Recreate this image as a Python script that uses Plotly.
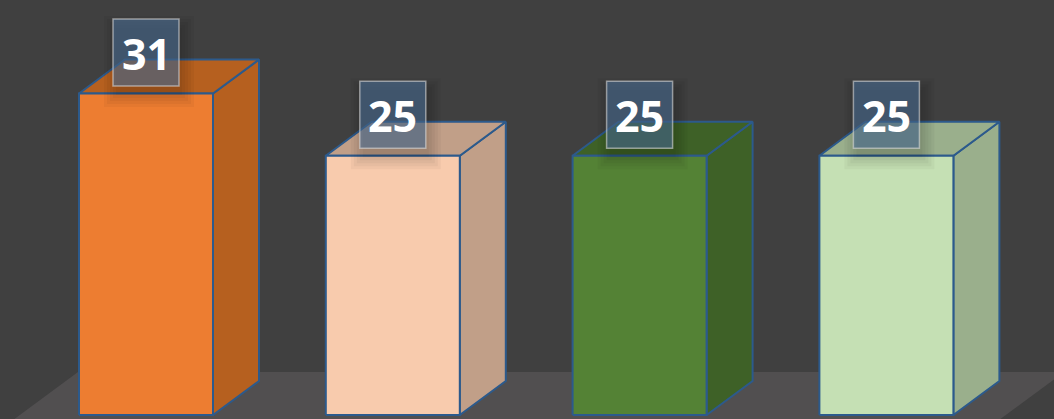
import plotly.graph_objects as go

categories = ["A", "B", "C", "D"]
values = [31, 25, 25, 25]
front_colors = ["#ED7D31", "#F8CBAD", "#548235", "#C5E0B4"]
side_colors = ["#B6601F", "#C19F88", "#3E6127", "#9AAF8C"]
label_texts = [str(v) for v in values]

W, H = 1054, 419
BG = "#404040"
FLOOR = "#514F50"
EDGE = "#2C5A8C"

# axis geometry
x0_px, step_px = 146.0, 246.8
y0_px, unit_px = 415.0, 10.37
xr = [-x0_px / step_px, (W - x0_px) / step_px]
yr = [-(H - y0_px) / unit_px, y0_px / unit_px]

half_w = 67 / step_px          # half width of the front face (data units)
dx = 46 / step_px              # depth offset in x
dy = 34 / unit_px              # depth offset in y

fig = go.Figure()

# floor
fl_top = 43 / unit_px
fl_bot = -60 / unit_px
slope = dx / dy
fl_left = -68 / step_px
fl_right = (1064 - x0_px) / step_px
fig.add_shape(type="path", xref="x", yref="y",
              path=(f"M {fl_left},{fl_top} L {fl_right},{fl_top} "
                    f"L {fl_right - (fl_top - fl_bot) * slope},{fl_bot} "
                    f"L {fl_left - (fl_top - fl_bot) * slope},{fl_bot} Z"),
              fillcolor=FLOOR, line=dict(width=0), layer="below")

for i, (cat, v) in enumerate(zip(categories, values)):
    xl, xrt = i - half_w, i + half_w
    # side face
    fig.add_trace(go.Scatter(
        x=[xrt, xrt + dx, xrt + dx, xrt, xrt],
        y=[0, dy, v + dy, v, 0],
        fill="toself", fillcolor=side_colors[i], mode="lines",
        line=dict(color=EDGE, width=2), hoverinfo="skip", showlegend=False))
    # top face
    fig.add_trace(go.Scatter(
        x=[xl, xrt, xrt + dx, xl + dx, xl],
        y=[v, v, v + dy, v + dy, v],
        fill="toself", fillcolor=side_colors[i], mode="lines",
        line=dict(color=EDGE, width=2), hoverinfo="skip", showlegend=False))
    # front face
    fig.add_trace(go.Scatter(
        x=[xl, xrt, xrt, xl, xl],
        y=[0, 0, v, v, 0],
        fill="toself", fillcolor=front_colors[i], mode="lines",
        line=dict(color=EDGE, width=2), hoverinfo="skip", showlegend=False,
        name=cat))

    # label box with soft shadow
    cy = v + 41 / unit_px
    bw = 33 / step_px
    bh = 33.5 / unit_px
    ox = 3 / step_px
    oy = -9 / unit_px
    for k in [12, 9, 6, 3, 0]:
        fig.add_shape(type="rect", xref="x", yref="y",
                      x0=i - bw - k / step_px + ox, x1=i + bw + k / step_px + ox,
                      y0=cy - bh - k / unit_px + oy, y1=cy + bh + k / unit_px + oy,
                      fillcolor="rgba(0,0,0,0.035)", line=dict(width=0), layer="above")
    fig.add_shape(type="rect", xref="x", yref="y",
                  x0=i - bw, x1=i + bw, y0=cy - bh, y1=cy + bh,
                  fillcolor="rgba(74,108,146,0.6)",
                  line=dict(color="rgba(215,215,215,0.6)", width=1.5), layer="above")
    fig.add_annotation(x=i, y=cy, xref="x", yref="y", text=f"<b>{label_texts[i]}</b>",
                       showarrow=False, yshift=-1,
                       font=dict(family="Open Sans", size=43, color="white"))

fig.update_layout(
    width=W, height=H,
    margin=dict(l=0, r=0, t=0, b=0),
    paper_bgcolor=BG, plot_bgcolor=BG,
    xaxis=dict(range=xr, visible=False, fixedrange=True),
    yaxis=dict(range=yr, visible=False, fixedrange=True),
    showlegend=False,
)

fig.write_html("out.html", config={"displayModeBar": False},
               post_script="document.body.style.margin='0';document.body.style.background='#404040';")
